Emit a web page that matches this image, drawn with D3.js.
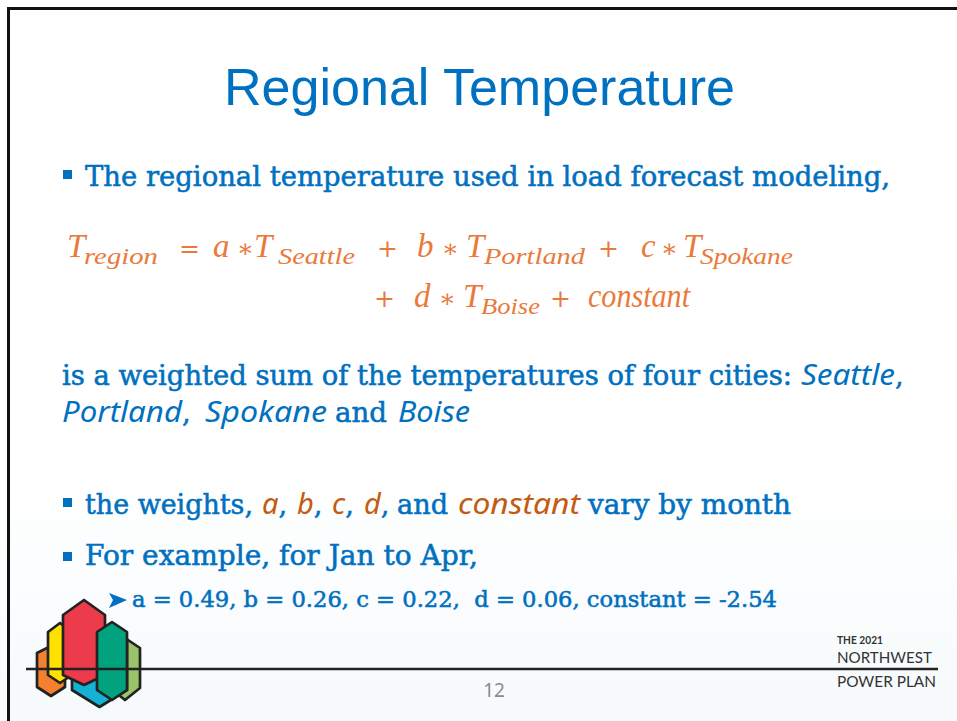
<!DOCTYPE html>
<html>
<head>
<meta charset="utf-8">
<script src="https://cdn.jsdelivr.net/npm/d3@7"></script>
<style>
  body { margin: 0; background: #fff; }
  svg { display: block; }
</style>
</head>
<body>
<svg width="957" height="721"></svg>
<script>
// slide content
var cities = ['Seattle', 'Portland', 'Spokane', 'Boise'];
var weightNames = ['a', 'b', 'c', 'd', 'constant'];
var weightValues = [0.49, 0.26, 0.22, 0.06, -2.54];
var pageNumber = 12;

var svg = d3.select('svg');
var W = +svg.attr('width'), H = +svg.attr('height');

var blue = '#0070C0', orange = '#E97A3C', darkOrange = '#C55A11';
var serif = "'DejaVu Serif', serif";
var sans = "'Noto Sans', 'Open Sans', sans-serif";
var mathF = "'Liberation Serif', 'Times New Roman', serif";

// background with faint blue wash at bottom
var defs = svg.append('defs');
var grad = defs.append('linearGradient').attr('id', 'bg')
    .attr('x1', 0).attr('y1', 0).attr('x2', 0).attr('y2', 1);
grad.append('stop').attr('offset', '0.65').attr('stop-color', '#ffffff');
grad.append('stop').attr('offset', '1').attr('stop-color', '#f6fafc');
svg.append('rect').attr('width', W).attr('height', H).attr('fill', 'url(#bg)');

// frame (top + left)
svg.append('path')
    .attr('d', 'M8.5,' + H + 'V8.5H' + W)
    .attr('fill', 'none').attr('stroke', '#111').attr('stroke-width', 3);

// generic text helper
function txt(x, y, s, o) {
    o = o || {};
    var fam = o.family || serif;
    var t = svg.append('text')
        .attr('x', x).attr('y', y)
        .attr('font-family', fam)
        .attr('font-size', o.size || 27)
        .attr('font-style', o.style || 'normal')
        .attr('font-weight', o.weight || 'normal')
        .attr('fill', o.fill || blue)
        .attr('text-anchor', o.anchor || 'start')
        .style('white-space', 'pre')
        .text(s);
    // Cambria is heavier than DejaVu Serif, so thicken a little
    if (fam === serif) t.attr('stroke', o.fill || blue).attr('stroke-width', 0.55);
    if (o.w) t.attr('textLength', o.w).attr('lengthAdjust', 'spacingAndGlyphs');
    return t;
}

function bullet(x, y) {
    svg.append('rect').attr('x', x).attr('y', y).attr('width', 9).attr('height', 9).attr('fill', blue);
}

// title
txt(479.5, 105, 'Regional Temperature', {
    family: "'Liberation Sans Narrow', 'Liberation Sans', Arial, sans-serif",
    size: 52, anchor: 'middle', w: 511
});

// bullet 1
bullet(63, 170);
txt(85, 186, 'The regional temperature used in load forecast modeling,', {w: 805});

// formula
var fSize = 33, sSize = 23;
function mainSym(x, y, s, w) { return txt(x, y, s, {family: mathF, style: 'italic', size: fSize, fill: orange, w: w}); }
function opSym(x, y, s) { return txt(x, y, s, {family: "'DejaVu Serif', serif", size: 25, fill: orange}).attr('stroke', null); }
function subSym(x, y, s, w) { return txt(x, y, s, {family: mathF, style: 'italic', size: sSize, fill: orange, w: w}); }

var y1 = 257, y2 = 307, sub = 7;
mainSym(67, y1, 'T');
subSym(84, y1 + sub, 'region', 74);
opSym(179, y1, '=');

// terms: weight * T_city
var terms = [
    {plus: null, w: 213, star: 237, T: 254, sx: 278, sw: 77, y: y1},
    {plus: 377, w: 417, star: 442, T: 466, sx: 484, sw: 101, y: y1},
    {plus: 598, w: 641, star: 661, T: 683, sx: 700, sw: 93, y: y1},
    {plus: 374, w: 414, star: 439, T: 463, sx: 481, sw: 59, y: y2}
];
terms.forEach(function(p, i) {
    if (p.plus !== null) opSym(p.plus, p.y, '+');
    mainSym(p.w, p.y, weightNames[i]);
    opSym(p.star, p.y, '\u2217');
    mainSym(p.T, p.y, 'T');
    subSym(p.sx, p.y + sub, cities[i], p.sw);
});
opSym(550, y2, '+');
mainSym(588, y2, weightNames[4], 102);

// paragraph
var italicSans = {family: sans, style: 'italic', size: 29};
txt(62, 385, 'is a weighted sum of the temperatures of four cities:', {w: 730});
txt(801, 385, cities[0], Object.assign({w: 94}, italicSans));
txt(895, 385, ',');
txt(62, 422, cities[1], Object.assign({w: 120}, italicSans));
txt(182, 422, ',');
txt(205, 422, cities[2], Object.assign({w: 122}, italicSans));
txt(335, 422, 'and', {w: 52});
txt(398, 422, cities[3], Object.assign({w: 72}, italicSans));

// bullet 2
var orangeIt = {family: sans, style: 'italic', size: 29, fill: darkOrange};
bullet(63, 498);
txt(85, 514, 'the weights,', {w: 168});
var wx = [262, 297, 332, 364];
wx.forEach(function(x, i) {
    var l = txt(x, 514, weightNames[i], orangeIt);
    var lw = l.node().getComputedTextLength();
    txt(x + lw, 514, ',');
});
txt(397, 514, 'and', {w: 51});
txt(458, 514, weightNames[4], Object.assign({w: 122}, orangeIt));
txt(588, 514, 'vary by month', {w: 203});

// bullet 3
bullet(63, 552);
txt(85, 565, 'For example, for Jan to Apr,', {w: 393});

// sub bullet with values
svg.append('path')
    .attr('d', 'M109,593 L127,600 L109,608 L113,600 Z')
    .attr('fill', blue);
var vals = weightNames.map(function(n, i) { return n + ' = ' + weightValues[i].toFixed(2); });
var line = vals.slice(0, 3).join(', ') + ',  ' + vals.slice(3).join(', ');
txt(132, 607, line, {size: 22, w: 645});

// logo
function hex(x0, x1, top, shT, shB, bot) {
    var cx = (x0 + x1) / 2;
    return [[x0, shT], [cx, top], [x1, shT], [x1, shB], [cx, bot], [x0, shB]];
}
var logo = [
    {c: '#9BC36A', p: hex(110, 140, 638, 648, 688, 700)},
    {c: '#14B3D6', p: hex(72, 127, 626, 640, 690, 707)},
    {c: '#F4812F', p: hex(37, 65, 646, 653, 687, 696)},
    {c: '#FFE100', p: hex(48, 72, 623, 632, 675, 683)},
    {c: '#EC3B4B', p: hex(63, 105, 600, 615, 675, 685)},
    {c: '#00A37D', p: hex(97, 127, 622, 632, 690, 700)}
];
svg.selectAll('.logo').data(logo).enter().append('polygon')
    .attr('class', 'logo')
    .attr('points', function(d) { return d.p.join(' '); })
    .attr('fill', function(d) { return d.c; })
    .attr('stroke', '#222').attr('stroke-width', 2.7).attr('stroke-linejoin', 'round');

// footer rule
svg.append('line')
    .attr('x1', 26).attr('x2', 938).attr('y1', 669).attr('y2', 669)
    .attr('stroke', '#222').attr('stroke-width', 2.5);

// footer brand
var brand = "Lato, 'Open Sans', sans-serif";
txt(837, 644, 'THE 2021', {family: brand, weight: 'bold', size: 11, fill: '#333', w: 46});
txt(837, 663, 'NORTHWEST', {family: brand, size: 16, fill: '#333', w: 95});
txt(837, 687, 'POWER PLAN', {family: brand, size: 16, fill: '#333', w: 99});

// page number
txt(494, 697, String(pageNumber), {family: sans, size: 19, fill: '#8a8a8a', anchor: 'middle'});
</script>
</body>
</html>
